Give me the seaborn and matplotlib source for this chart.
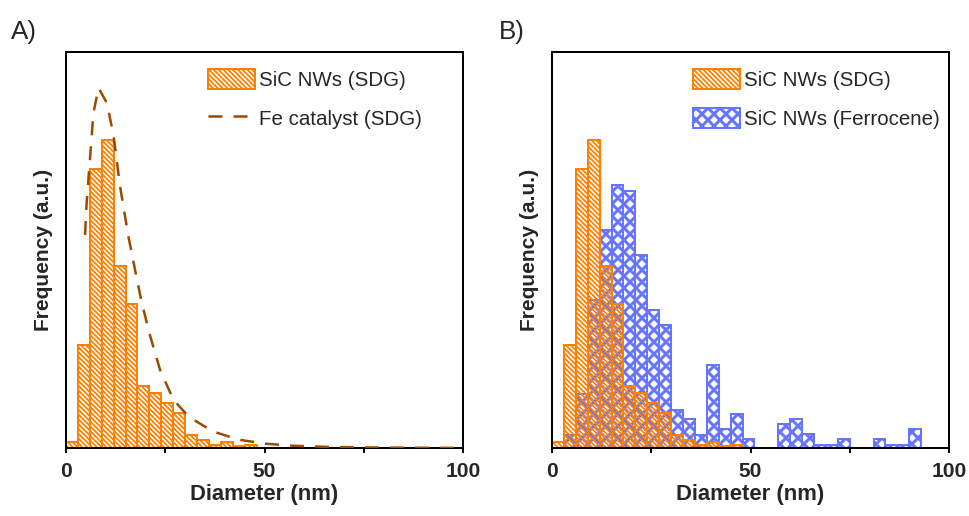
import numpy as np
import pandas as pd
import matplotlib
matplotlib.use("Agg")
import matplotlib.pyplot as plt
import seaborn as sns

# ---------------------------------------------------------------------------
# Data: diameter histograms in 3 nm bins (0-3, 3-6, ...), frequency in a.u.
# ---------------------------------------------------------------------------
bin_width = 3.0

# SiC nanowires grown on the SDG substrate
sdg_counts = [5.6, 102.6, 279, 308, 181.6, 144, 62, 55, 45, 35,
              13, 8, 2.6, 6, 1.6, 3.3]

# SiC nanowires grown with ferrocene as catalyst source
ferrocene_counts = [0, 13, 54, 148, 217.6, 262.6, 257.3, 192.6, 137.6, 122.6,
                    38.3, 29, 13.3, 83.3, 19, 34, 9, 0, 0, 24,
                    29, 14, 3.3, 3.3, 9, 0, 0, 9, 3.3, 3.3, 19]

# Fe catalyst particle size distribution on SDG
fe_diameter = [4.8, 5.2, 6.1, 6.9, 8.2, 10.3, 12.0, 13.6, 15.7, 17.4, 19.1,
               21.2, 23.7, 26.3, 27.1, 31.0, 37.0, 43.5, 50.3, 57.0, 65.0,
               75.0, 85.0, 100.0]
fe_freq = [213, 245, 292, 335, 360, 345, 312, 262, 212, 178, 145,
           112, 78, 55, 48, 31, 16.6, 8.3, 4.3, 2.3, 1.2,
           0.6, 0.3, 0.1]

x_ticks = [0, 50, 100]
x_tick_labels = ["0", "50", "100"]
x_minor_ticks = [25, 75]

labels = {"sdg": "SiC NWs (SDG)", "fe": "Fe catalyst (SDG)",
          "ferro": "SiC NWs (Ferrocene)"}

# ---------------------------------------------------------------------------
# Style
# ---------------------------------------------------------------------------
ORANGE = "#FF8000"
BLUE = "#6675FF"
BROWN = "#9A4B00"
SDG_HATCH = "\\" * 5
FERRO_HATCH = "xx"
SDG_HATCH_LW = 1.8
FERRO_HATCH_LW = 3.0

sns.set_theme(style="ticks")
plt.rcParams["font.family"] = ["Liberation Sans", "DejaVu Sans"]
plt.rcParams["hatch.linewidth"] = SDG_HATCH_LW

DPI = 72
fig = plt.figure(figsize=(969 / DPI, 516 / DPI), dpi=DPI)
fig.patch.set_facecolor("white")

W, H = 969.0, 516.0
ax_a = fig.add_axes([66 / W, 1 - 448 / H, 397 / W, 396 / H])
ax_b = fig.add_axes([552 / W, 1 - 448 / H, 397 / W, 396 / H])


def hist_from_counts(ax, counts, color, hatch, label, hatch_lw):
    counts = [float(c) for c in counts]
    n = len(counts)
    edges = [i * bin_width for i in range(n + 1)]
    df = pd.DataFrame({"diameter": [e + bin_width / 2 for e in edges[:-1]],
                       "freq": counts})
    with plt.rc_context({"hatch.linewidth": hatch_lw}):
        sns.histplot(data=df, x="diameter", weights="freq", bins=edges,
                     stat="count", element="bars", fill=False, color=color,
                     linewidth=2, hatch=hatch, label=label, ax=ax)
    cont = ax.containers[-1]
    for p in cont.patches:
        if hasattr(p, "set_hatch_linewidth"):
            p.set_hatch_linewidth(hatch_lw)
    return cont


def style_axes(ax):
    ax.set_xlim(0, 100)
    ax.set_ylim(0, 396)
    ax.set_xticks(x_ticks, x_tick_labels)
    ax.set_xticks(x_minor_ticks, minor=True)
    ax.set_yticks([])
    ax.tick_params(axis="x", which="both", direction="out", length=5,
                   width=2, color="black", pad=9)
    for lab in ax.get_xticklabels():
        lab.set_fontsize(21)
        lab.set_fontweight("bold")
    for s in ax.spines.values():
        s.set_linewidth(2)
        s.set_color("black")
        s.set_visible(True)
    ax.set_xlabel("Diameter (nm)", fontsize=22, fontweight="bold", labelpad=3)
    ax.set_ylabel("Frequency (a.u.)", fontsize=21, fontweight="bold",
                  labelpad=13)
    ax.set_facecolor("white")


def fix_legend_hatch(leg, widths):
    for p, w in zip(leg.get_patches(), widths):
        if hasattr(p, "set_hatch_linewidth"):
            p.set_hatch_linewidth(w)


legend_kw = dict(frameon=False, fontsize=20.5, handlelength=2.3,
                 handleheight=1.12, handletextpad=0.2, labelspacing=0.88,
                 borderpad=0, borderaxespad=0, loc="upper left")

# ---------------------------------------------------------------------------
# Panel A: SiC NWs on SDG with the Fe catalyst distribution
# ---------------------------------------------------------------------------
hist_from_counts(ax_a, sdg_counts, ORANGE, SDG_HATCH, labels["sdg"],
                 SDG_HATCH_LW)
sns.lineplot(x=fe_diameter, y=fe_freq, color=BROWN, linewidth=2.5,
             linestyle=(0, (5.6, 4.4)), estimator=None, sort=False,
             label=labels["fe"], ax=ax_a, zorder=3)
style_axes(ax_a)
if ax_a.get_legend() is not None:
    ax_a.get_legend().remove()
h, l = ax_a.get_legend_handles_labels()
order = [l.index(labels["sdg"]), l.index(labels["fe"])]
leg_a = ax_a.legend([h[i] for i in order], [l[i] for i in order],
                    bbox_to_anchor=(0.357, 0.958), **legend_kw)
fix_legend_hatch(leg_a, [SDG_HATCH_LW])

# ---------------------------------------------------------------------------
# Panel B: SDG vs ferrocene grown nanowires
# ---------------------------------------------------------------------------
hist_from_counts(ax_b, ferrocene_counts, BLUE, FERRO_HATCH, labels["ferro"],
                 FERRO_HATCH_LW)
hist_from_counts(ax_b, sdg_counts, ORANGE, SDG_HATCH, labels["sdg"],
                 SDG_HATCH_LW)
style_axes(ax_b)
h, l = ax_b.get_legend_handles_labels()
order = [l.index(labels["sdg"]), l.index(labels["ferro"])]
leg_b = ax_b.legend([h[i] for i in order], [l[i] for i in order],
                    bbox_to_anchor=(0.354, 0.958), **legend_kw)
fix_legend_hatch(leg_b, [SDG_HATCH_LW, FERRO_HATCH_LW])

# Panel letters
fig.text(11 / W, 1 - 32 / H, "A)", fontsize=26, va="center", ha="left")
fig.text(499 / W, 1 - 32 / H, "B)", fontsize=26, va="center", ha="left")

fig.savefig("out.png", dpi=DPI, facecolor="white")
